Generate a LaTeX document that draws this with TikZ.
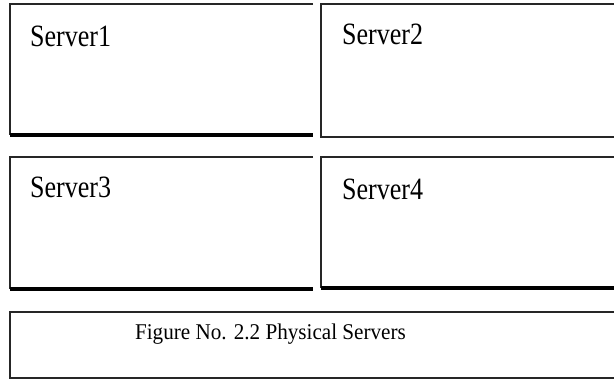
\documentclass[tikz,border=0pt]{standalone}
\usepackage{fontspec}
\usepackage{graphicx}
\setmainfont{Liberation Serif}
\tikzset{
  thin border/.style={line width=1.4pt, draw=black!85},
  thick border/.style={line width=3.5pt, draw=black},
  srvlabel/.style={anchor=base west, inner sep=0pt, font=\fontsize{31}{36}\selectfont},
  caplabel/.style={anchor=base, inner sep=0pt, font=\fontsize{22.5}{26}\selectfont}
}
\begin{document}
\begin{tikzpicture}[x=1pt,y=-1pt]
\useasboundingbox (0,0) rectangle (614,380);
% Box 1
\coordinate (b1tl) at (10,4);
\coordinate (b1tr) at (313,4);
\coordinate (b1bl) at (10,135);
\coordinate (b1br) at (313,135);
\draw[thin border] (b1tr) -- (b1tl) -- (b1bl);
\draw[thick border] (b1bl) -- (b1br);
% Box 2
\coordinate (b2tl) at (321,4);
\coordinate (b2tr) at (616,4);
\coordinate (b2bl) at (321,137);
\coordinate (b2br) at (616,137);
\draw[thin border] (b2tr) -- (b2tl) -- (b2bl) -- (b2br);
% Box 3
\coordinate (b3tl) at (10,157);
\coordinate (b3tr) at (313,157);
\coordinate (b3bl) at (10,289);
\coordinate (b3br) at (313,289);
\draw[thin border] (b3tr) -- (b3tl) -- (b3bl);
\draw[thick border] (b3bl) -- (b3br);
% Box 4
\coordinate (b4tl) at (321,157);
\coordinate (b4tr) at (616,157);
\coordinate (b4bl) at (321,288);
\coordinate (b4br) at (616,288);
\draw[thin border] (b4tr) -- (b4tl) -- (b4bl);
\draw[thick border] (b4bl) -- (b4br);
% Box 5
\coordinate (b5tl) at (10,312);
\coordinate (b5tr) at (616,312);
\coordinate (b5bl) at (10,378);
\coordinate (b5br) at (616,378);
\draw[thin border] (b5tr) -- (b5tl) -- (b5bl) -- (b5br);
% Labels
\node[srvlabel] (s1) at (30,46) {\scalebox{0.84}[1]{Server1}};
\node[srvlabel] (s2) at (342,44) {\scalebox{0.84}[1]{Server2}};
\node[srvlabel] (s3) at (30,197) {\scalebox{0.84}[1]{Server3}};
\node[srvlabel] (s4) at (342,199) {\scalebox{0.84}[1]{Server4}};
\node[caplabel] (cap) at (270.5,339) {\scalebox{0.94}[1]{Figure No. 2.2 Physical Servers}};
\end{tikzpicture}
\end{document}
